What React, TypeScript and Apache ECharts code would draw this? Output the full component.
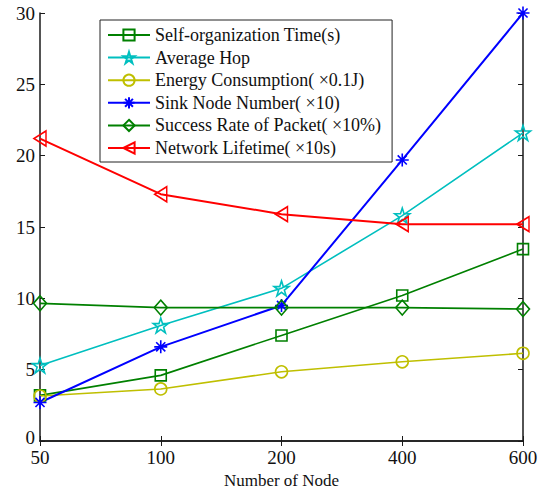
import React, { useEffect, useRef } from "react";
import * as echarts from "echarts";

const categories = ["50", "100", "200", "400", "600"];
const selfOrgTime = [3.2, 4.6, 7.4, 10.2, 13.45];
const averageHop = [5.3, 8.1, 10.7, 15.8, 21.6];
const energyConsumption = [3.15, 3.65, 4.85, 5.55, 6.15];
const sinkNodeNumber = [2.7, 6.6, 9.5, 19.7, 30];
const successRate = [9.65, 9.35, 9.35, 9.35, 9.25];
const networkLifetime = [21.2, 17.3, 15.9, 15.2, 15.2];

const FONT = "Liberation Serif";

const STAR =
  "path://M0,-100L22.45,-30.9L95.1,-30.9L36.3,11.8L58.8,80.9L0,38.2L-58.8,80.9L-36.3,11.8L-95.1,-30.9L-22.45,-30.9Z";
const ASTER = "path://M0,-10L0,10M-10,0L10,0M-7,-7L7,7M-7,7L7,-7";
const TRI_LEFT = "path://M0,7.5L12,0L12,15Z";

function mk(name: string, data: number[], color: string, symbol: string, size: any, lw = 1.6) {
  return {
    name,
    type: "line",
    data,
    color,
    symbol,
    symbolSize: size,
    symbolKeepAspect: false,
    showAllSymbol: true,
    lineStyle: { color, width: lw },
    itemStyle: { color: "none", borderColor: color, borderWidth: 1.6 },
    emphasis: { disabled: true },
  };
}

export default function App() {
  const ref = useRef<HTMLDivElement>(null);
  useEffect(() => {
    const chart = echarts.init(ref.current!, null, { renderer: "svg" });
    const axisLine = { show: true, lineStyle: { color: "#1a1a1a", width: 1.5 } };
    chart.setOption({
      animation: false,
      backgroundColor: "#fff",
      textStyle: { fontFamily: FONT },
      grid: { left: 40, right: 28, top: 13, bottom: 46, containLabel: false, outerBoundsMode: "none" },
      legend: {
        orient: "vertical",
        left: 100,
        top: 20,
        backgroundColor: "#fff",
        borderColor: "#222",
        borderWidth: 1,
        borderRadius: 0,
        padding: [6, 11, 5, 7],
        itemWidth: 42,
        itemHeight: 14,
        itemGap: 4.6,
        textStyle: { fontFamily: FONT, fontSize: 18, color: "#111", lineHeight: 18 },
        data: [
          "Self-organization Time(s)",
          "Average Hop",
          "Energy Consumption( ×0.1J)",
          "Sink Node Number( ×10)",
          "Success Rate of Packet( ×10%)",
          "Network Lifetime( ×10s)",
        ],
      },
      xAxis: [
        {
          type: "category",
          data: categories,
          boundaryGap: false,
          position: "bottom",
          axisLine,
          axisTick: { show: true, inside: true, length: 5, lineStyle: { color: "#1a1a1a" } },
          axisLabel: { fontFamily: FONT, fontSize: 19, color: "#111", margin: 7 },
          splitLine: { show: false },
          name: "Number of Node",
          nameLocation: "middle",
          nameGap: 21,
          nameTextStyle: { fontFamily: FONT, fontSize: 17, color: "#111", lineHeight: 17 },
        },
        {
          type: "category",
          data: categories,
          boundaryGap: false,
          position: "top",
          axisLine,
          axisTick: { show: true, inside: true, length: 5, lineStyle: { color: "#1a1a1a" } },
          axisLabel: { show: false },
          splitLine: { show: false },
        },
      ],
      yAxis: [
        {
          type: "value",
          min: 0,
          max: 30,
          interval: 5,
          position: "left",
          axisLine,
          axisTick: { show: true, inside: true, length: 5, lineStyle: { color: "#1a1a1a" } },
          axisLabel: {
            fontFamily: FONT,
            fontSize: 19,
            color: "#111",
            margin: 5,
            formatter: (v: number) => (v === 0 ? "{z|0}" : String(v)),
            rich: { z: { fontFamily: FONT, fontSize: 19, color: "#111", padding: [0, 0, 8, 0] } },
          },
          splitLine: { show: false },
        },
        {
          type: "value",
          min: 0,
          max: 30,
          interval: 5,
          position: "right",
          axisLine,
          axisTick: { show: true, inside: true, length: 5, lineStyle: { color: "#1a1a1a" } },
          axisLabel: { show: false },
          splitLine: { show: false },
        },
      ],
      series: [
        mk("Self-organization Time(s)", selfOrgTime, "#008000", "rect", 11),
        mk("Average Hop", averageHop, "#00BFBF", STAR, [15, 15]),
        mk("Energy Consumption( ×0.1J)", energyConsumption, "#BFBF00", "circle", 12),
        mk("Sink Node Number( ×10)", sinkNodeNumber, "#0000FF", ASTER, [13, 13], 2),
        mk("Success Rate of Packet( ×10%)", successRate, "#008000", "diamond", [13, 15]),
        mk("Network Lifetime( ×10s)", networkLifetime, "#FF0000", TRI_LEFT, [12, 15], 2),
      ],
    });
    return () => chart.dispose();
  }, []);
  return (
    <div
      ref={ref}
      style={{ position: "fixed", left: 0, top: 0, width: 551, height: 487 }}
    />
  );
}
